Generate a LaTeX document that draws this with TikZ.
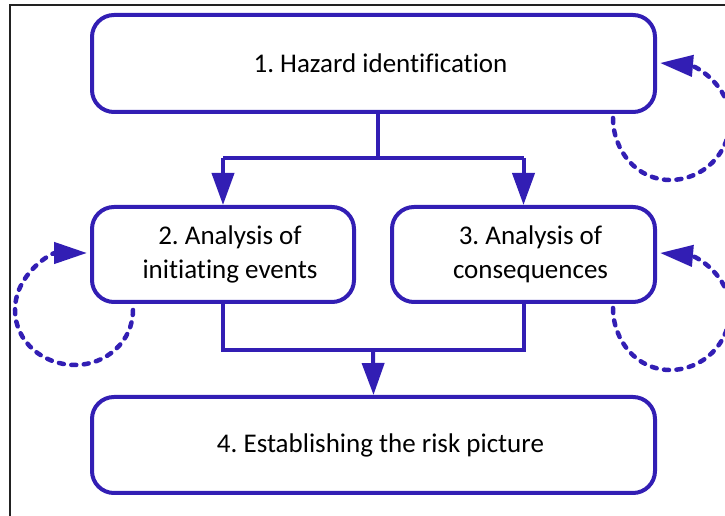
\documentclass[tikz,border=0pt]{standalone}
\usepackage{fontspec}
\setmainfont{Carlito}[Ligatures={NoCommon}]
\usetikzlibrary{arrows.meta}
\definecolor{dblue}{RGB}{50,30,180}
\definecolor{framegray}{RGB}{34,34,34}
\frenchspacing
\begin{document}
\begin{tikzpicture}[x=1pt,y=1pt,
  box/.style={draw=dblue, line width=4pt, rounded corners=22pt, inner sep=0pt},
  txt/.style={font=\fontsize{27}{34}\selectfont, align=center, inner sep=0pt},
  conn/.style={draw=dblue, line width=4pt},
  tip/.style={-{Triangle[length=32pt,width=22pt]}},
  loopline/.style={draw=dblue, line width=4.5pt, line cap=round, dash pattern=on 5pt off 7.5pt,
    -{Triangle[length=33pt,width=21pt]}},
  frameline/.style={draw=framegray, line width=2pt}
]
\useasboundingbox (0,0) rectangle (725,516);
\draw[frameline] (10,-5) -- (10,511) -- (735,511);

\node[box, minimum width=563pt, minimum height=97pt] (b1) at (373.5,452.5) {};
\node[box, minimum width=262pt, minimum height=95pt] (b2) at (223,261.5) {};
\node[box, minimum width=263pt, minimum height=95pt] (b3) at (523.5,261.5) {};
\node[box, minimum width=563pt, minimum height=96pt] (b4) at (373.5,71) {};

\node[txt] (t1) at ([xshift=7pt]b1.center) {1. Hazard identification};
\node[txt] (t2) at ([xshift=7pt]b2.center) {2. Analysis of\\initiating events};
\node[txt] (t3) at ([xshift=7pt]b3.center) {3. Analysis of\\consequences};
\node[txt] (t4) at ([xshift=7pt]b4.center) {4. Establishing the risk picture};

% top split
\coordinate (jt) at (378,358);
\draw[conn] (b1.south -| jt) -- (jt);
\draw[conn] (b2.north |- jt) -- (b3.north |- jt);
\draw[conn, tip] (b2.north |- jt) -- (b2.north);
\draw[conn, tip] (b3.north |- jt) -- (b3.north);

% bottom join
\coordinate (jb) at (373,166);
\draw[conn] (b2.south) -- (b2.south |- jb) -- (b3.south |- jb) -- (b3.south);
\draw[conn, tip] (jb) -- (b4.north);

% loops
\coordinate (la1) at (613,398);
\coordinate (la2) at (670,336);
\coordinate (la3) at (730,396);
\coordinate (lat) at (660,453);
\draw[loopline] (la1) to[out=-90,in=180] (la2) to[out=0,in=-90] (la3) to[out=90,in=-5] (lat);

\coordinate (lb1) at (133,206);
\coordinate (lb2) at (75,151);
\coordinate (lb3) at (15,206);
\coordinate (lbt) at (87,263);
\draw[loopline] (lb1) to[out=-90,in=0] (lb2) to[out=180,in=-90] (lb3) to[out=90,in=180] (lbt);

\coordinate (lc1) at (613,208);
\coordinate (lc2) at (670,146);
\coordinate (lc3) at (730,206);
\coordinate (lct) at (660,263);
\draw[loopline] (lc1) to[out=-90,in=180] (lc2) to[out=0,in=-90] (lc3) to[out=90,in=-5] (lct);
\end{tikzpicture}
\end{document}
